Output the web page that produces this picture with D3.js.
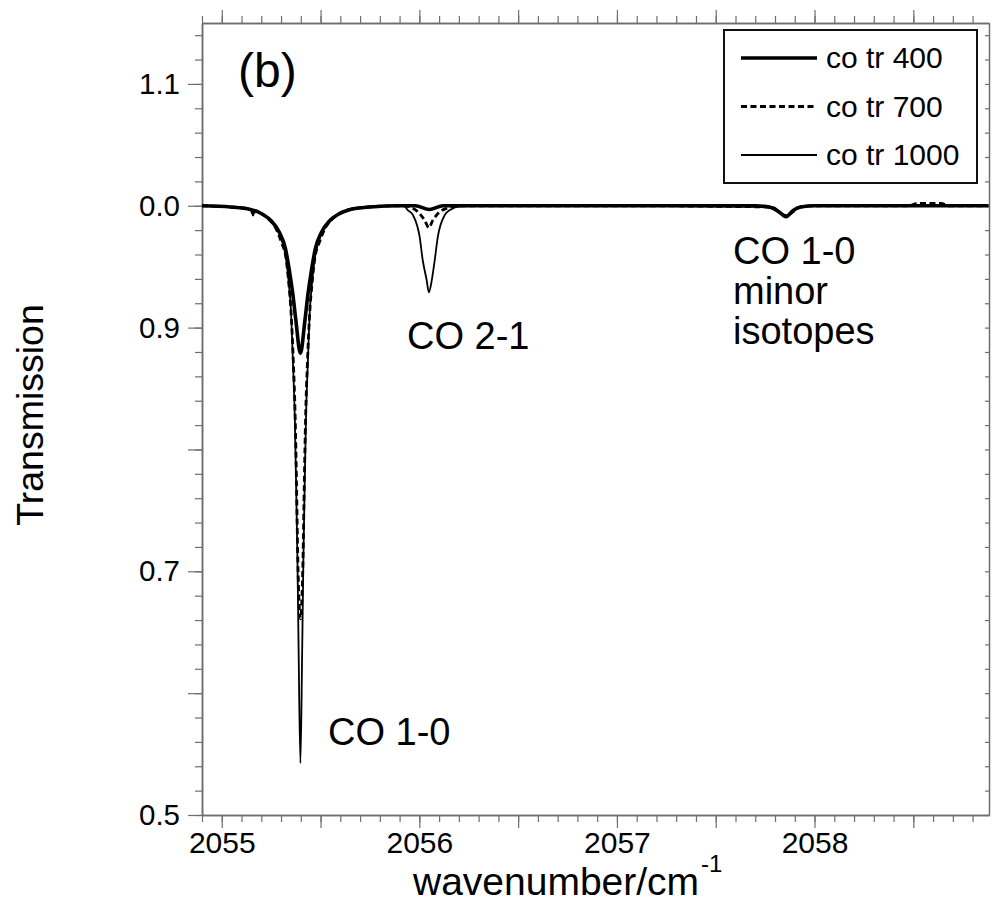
<!DOCTYPE html>
<html>
<head>
<meta charset="utf-8">
<script src="https://cdn.jsdelivr.net/npm/d3@7"></script>
<style>
  html, body { margin: 0; padding: 0; background: #fff; }
  svg { display: block; font-family: "Liberation Sans", Arial, Helvetica, sans-serif; }
</style>
</head>
<body>
<div id="chart"></div>
<script>
// Series: wavenumber (cm-1) and transmission
const wn400 = [2054.90, 2055.044, 2055.145, 2055.206, 2055.251, 2055.292, 2055.322, 2055.342, 2055.360, 2055.375, 2055.398,
  2055.421, 2055.436, 2055.454, 2055.474, 2055.504, 2055.545, 2055.590, 2055.651, 2055.752, 2055.90,
  2055.98, 2056.05, 2056.12, 2057.00, 2057.70, 2057.78, 2057.82, 2057.856, 2057.89, 2057.93, 2058.00, 2058.88];
const tr400 = [1.000, 0.999, 0.997, 0.993, 0.9875, 0.978, 0.965, 0.947, 0.927, 0.906, 0.879,
  0.906, 0.927, 0.947, 0.965, 0.978, 0.9875, 0.993, 0.997, 0.999, 1.000,
  1.000, 0.997, 1.000, 1.000, 1.000, 0.9985, 0.995, 0.991, 0.996, 0.999, 1.000, 1.000];

const wn700 = [2054.90, 2055.120, 2055.150, 2055.158, 2055.168, 2055.185, 2055.231, 2055.272, 2055.302, 2055.325, 2055.340,
  2055.350, 2055.362, 2055.372, 2055.378, 2055.385, 2055.398, 2055.411, 2055.418, 2055.424, 2055.434,
  2055.446, 2055.456, 2055.471, 2055.494, 2055.525, 2055.565, 2055.611, 2055.676, 2055.90,
  2055.927, 2055.967, 2055.993, 2056.027, 2056.048, 2056.068, 2056.103, 2056.14, 2056.206,
  2057.00, 2057.78, 2057.856, 2057.93, 2058.02, 2058.48, 2058.52, 2058.64, 2058.68, 2058.88];
const tr700 = [1.000, 0.998, 0.9965, 0.9925, 0.996, 0.995, 0.990, 0.982, 0.970, 0.957, 0.935,
  0.9145, 0.873, 0.824, 0.775, 0.709, 0.661, 0.709, 0.775, 0.824, 0.873,
  0.9145, 0.935, 0.957, 0.970, 0.982, 0.990, 0.995, 0.998, 1.000,
  1.000, 0.998, 0.995, 0.988, 0.982, 0.988, 0.995, 0.998, 1.000,
  1.000, 0.999, 0.992, 0.999, 1.000, 1.000, 1.002, 1.002, 1.000, 1.000];

const wn1000 = [2054.90, 2055.120, 2055.150, 2055.158, 2055.168, 2055.185, 2055.236, 2055.277, 2055.307, 2055.325, 2055.340,
  2055.350, 2055.360, 2055.370, 2055.376, 2055.383, 2055.389, 2055.398, 2055.407, 2055.413, 2055.420,
  2055.426, 2055.436, 2055.446, 2055.456, 2055.471, 2055.489, 2055.519, 2055.560, 2055.611, 2055.676, 2055.90,
  2055.926, 2055.941, 2055.967, 2056.002, 2056.017, 2056.037, 2056.048, 2056.063, 2056.078, 2056.093,
  2056.129, 2056.155, 2056.206, 2056.307, 2057.00, 2057.78, 2057.856, 2057.93, 2058.00, 2058.88];
const tr1000 = [1.000, 0.998, 0.9965, 0.992, 0.996, 0.995, 0.990, 0.982, 0.970, 0.957, 0.935,
  0.9145, 0.873, 0.824, 0.775, 0.709, 0.635, 0.5425, 0.635, 0.709, 0.775,
  0.824, 0.873, 0.9145, 0.935, 0.957, 0.970, 0.982, 0.990, 0.995, 0.998, 1.000,
  0.9995, 0.9965, 0.9925, 0.974, 0.9555, 0.939, 0.929, 0.939, 0.9555, 0.974,
  0.9925, 0.9965, 0.9995, 1.000, 1.000, 0.999, 0.992, 0.999, 1.000, 1.000];

const seriesNames = ["co tr 400", "co tr 700", "co tr 1000"];

// tick labels (the picture really reads "0.0" at 1.0)
const yMajorTicks = [1.1, 1.0, 0.9, 0.8, 0.7, 0.6, 0.5];
const yMajorLabels = ["1.1", "0.0", "0.9", "", "0.7", "", "0.5"];
const xLabelTicks = [2055, 2056, 2057, 2058];

const width = 994, height = 903;
const plot = { left: 202, right: 989, top: 23, bottom: 815 };

const svg = d3.select("#chart").append("svg")
  .attr("width", width)
  .attr("height", height);

const xScale = d3.scaleLinear().domain([2054.9, 2058.883]).range([plot.left, plot.right]);
const yScale = d3.scaleLinear().domain([0.5, 1.15]).range([plot.bottom, plot.top]);

const axisColor = "#6e6e6e";

const xMinor = d3.range(2054.9, 2058.85, 0.1).map(d => +d.toFixed(1));
const xMajor = d3.range(2055, 2058.6, 0.5);
const yMinor = d3.range(0.5, 1.151, 0.02).map(d => +d.toFixed(2));

function styleAxis(g) {
  g.selectAll("path.domain").attr("stroke", axisColor).attr("stroke-width", 1.5);
  g.selectAll(".tick line").attr("stroke", axisColor).attr("stroke-width", 1.2);
}

// bottom axis
svg.append("g")
  .attr("transform", `translate(0,${plot.bottom})`)
  .call(d3.axisBottom(xScale).tickValues(xMinor).tickSize(7).tickSizeOuter(0).tickFormat(""))
  .call(styleAxis);
svg.append("g")
  .attr("transform", `translate(0,${plot.bottom})`)
  .call(d3.axisBottom(xScale).tickValues(xMajor).tickSize(13).tickSizeOuter(0).tickPadding(4)
    .tickFormat(d => xLabelTicks.includes(d) ? d : ""))
  .call(styleAxis)
  .call(g => g.selectAll("text").attr("font-size", 30).attr("fill", "#000")
    .attr("font-family", "'Liberation Sans', Arial, sans-serif"));

// top axis
svg.append("g")
  .attr("transform", `translate(0,${plot.top})`)
  .call(d3.axisTop(xScale).tickValues(xMinor).tickSize(7).tickSizeOuter(0).tickFormat(""))
  .call(styleAxis);
svg.append("g")
  .attr("transform", `translate(0,${plot.top})`)
  .call(d3.axisTop(xScale).tickValues(xMajor).tickSize(13).tickSizeOuter(0).tickFormat(""))
  .call(styleAxis);

// left axis
svg.append("g")
  .attr("transform", `translate(${plot.left},0)`)
  .call(d3.axisLeft(yScale).tickValues(yMinor).tickSize(7).tickSizeOuter(0).tickFormat(""))
  .call(styleAxis);
svg.append("g")
  .attr("transform", `translate(${plot.left},0)`)
  .call(d3.axisLeft(yScale).tickValues(yMajorTicks).tickSize(14).tickSizeOuter(0).tickPadding(8)
    .tickFormat((d, i) => yMajorLabels[i]))
  .call(styleAxis)
  .call(g => g.selectAll("text").attr("font-size", 29.5).attr("fill", "#000")
    .attr("font-family", "'Liberation Sans', Arial, sans-serif"));

// right axis, ticks inside
svg.append("g")
  .attr("transform", `translate(${plot.right},0)`)
  .call(d3.axisRight(yScale).tickValues(yMinor).tickSize(-4).tickSizeOuter(0).tickFormat(""))
  .call(styleAxis);

// clip
svg.append("clipPath").attr("id", "clip")
  .append("rect")
  .attr("x", plot.left).attr("y", plot.top)
  .attr("width", plot.right - plot.left).attr("height", plot.bottom - plot.top);

const line = d3.line()
  .x(d => xScale(d[0]))
  .y(d => yScale(d[1]))
  .curve(d3.curveMonotoneX);

const curves = svg.append("g").attr("clip-path", "url(#clip)");

curves.append("path")
  .datum(d3.zip(wn1000, tr1000))
  .attr("fill", "none")
  .attr("stroke", "#000")
  .attr("stroke-width", 1.8)
  .attr("d", line);

curves.append("path")
  .datum(d3.zip(wn700, tr700))
  .attr("fill", "none")
  .attr("stroke", "#000")
  .attr("stroke-width", 2.8)
  .attr("stroke-dasharray", "6,3.5")
  .attr("d", line);

curves.append("path")
  .datum(d3.zip(wn400, tr400))
  .attr("fill", "none")
  .attr("stroke", "#000")
  .attr("stroke-width", 3.6)
  .attr("d", line);

// axis titles
svg.append("text")
  .attr("transform", "translate(43,415) rotate(-90)")
  .attr("text-anchor", "middle")
  .attr("font-size", 37.5)
  .text("Transmission");

const xTitle = svg.append("text")
  .attr("x", 413)
  .attr("y", 895)
  .attr("font-size", 39);
xTitle.append("tspan").text("wavenumber/cm");
xTitle.append("tspan").attr("font-size", 24).attr("dy", -23).attr("dx", 2).text("-1");

// panel label and annotations
svg.append("text").attr("x", 238).attr("y", 87).attr("font-size", 48).text("(b)");

svg.append("text").attr("x", 407).attr("y", 349).attr("font-size", 38).text("CO 2-1");
svg.append("text").attr("x", 328).attr("y", 745).attr("font-size", 38).text("CO 1-0");

const minor = svg.append("text").attr("font-size", 38);
["CO 1-0", "minor", "isotopes"].forEach((t, i) => {
  minor.append("tspan").attr("x", 733).attr("y", 264 + i * 40).text(t);
});

// legend
const legend = svg.append("g");
legend.append("rect")
  .attr("x", 724).attr("y", 30)
  .attr("width", 253).attr("height", 153)
  .attr("fill", "#fff")
  .attr("stroke", "#111")
  .attr("stroke-width", 2);

const legendStyles = [
  { w: 3.6, dash: null },
  { w: 2.8, dash: "6,3.5" },
  { w: 1.8, dash: null }
];

seriesNames.forEach((name, i) => {
  const ly = 58 + i * 48.5;
  legend.append("line")
    .attr("x1", 741).attr("x2", 817)
    .attr("y1", ly).attr("y2", ly)
    .attr("stroke", "#000")
    .attr("stroke-width", legendStyles[i].w)
    .attr("stroke-dasharray", legendStyles[i].dash);
  legend.append("text")
    .attr("x", 826).attr("y", ly + 10)
    .attr("font-size", 30)
    .text(name);
});
</script>
</body>
</html>
